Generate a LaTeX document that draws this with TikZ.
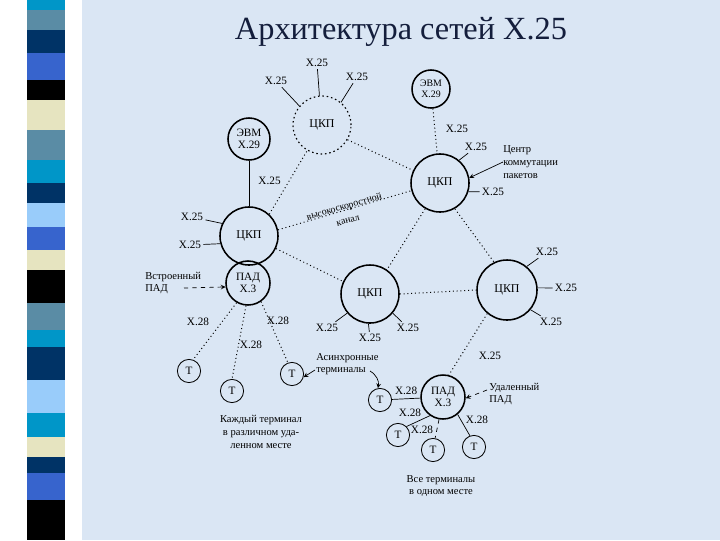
\documentclass[tikz,border=0pt]{standalone}
\usepackage{fontspec}
\setmainfont{Liberation Serif}
\definecolor{bgblue}{RGB}{218,230,244}
\definecolor{titlecol}{RGB}{20,30,60}
\definecolor{steal}{RGB}{0,150,200}
\definecolor{sgray}{RGB}{90,140,165}
\definecolor{snavy}{RGB}{0,51,102}
\definecolor{sblue}{RGB}{55,100,205}
\definecolor{scream}{RGB}{230,228,192}
\definecolor{slight}{RGB}{153,204,250}

\begin{document}
\begin{tikzpicture}[x=0.025cm,y=-0.025cm,
        ckp/.style={circle,draw,line width=1.1pt,minimum size=1.45cm,inner sep=0pt,font=\fontsize{8.5}{9}\selectfont},
        pad/.style={circle,draw,line width=1.1pt,minimum size=1.1cm,inner sep=0pt,align=center,font=\fontsize{8}{8.5}\selectfont},
        term/.style={circle,draw,line width=0.6pt,minimum size=0.58cm,inner sep=0pt,font=\fontsize{8}{9}\selectfont},
        lbl/.style={font=\fontsize{8}{9}\selectfont,inner sep=1.5pt},
        txt/.style={font=\fontsize{7.5}{9}\selectfont,align=left,inner sep=0pt},
        link/.style={dotted,line width=0.7pt},
        tick/.style={line width=0.5pt}]
        \useasboundingbox (0,0) rectangle (720,540);
        \fill[white] (0,0) rectangle (82,540);
        \fill[bgblue] (82,0) rectangle (720,540);
        \foreach \ya/\yb/\c in {0/10/steal,10/30/sgray,30/53/snavy,53/80/sblue,80/100/black,100/130/scream,
                130/160/sgray,160/183/steal,183/203/snavy,203/227/slight,227/250/sblue,250/270/scream,270/303/black,
                303/330/sgray,330/347/steal,347/380/snavy,380/413/slight,413/437/steal,437/457/scream,457/473/snavy,
                473/500/sblue,500/540/black}
            \fill[\c] (27,\ya) rectangle (65,\yb);
        \node[font=\fontsize{23}{26}\selectfont,text=titlecol] (title) at (401,32) {Архитектура сетей X.25};

        \node[ckp,dotted,line width=0.8pt] (ckpt) at (322,125) {ЦКП};
        \node[pad,minimum size=1.05cm] (evml) at (249,139) {ЭВМ\\X.29};
        \node[pad,minimum size=0.95cm,font=\fontsize{7}{7.5}\selectfont] (evmr) at (431,89) {ЭВМ\\X.29};
        \node[ckp] (ckpr) at (440,183) {ЦКП};
        \node[ckp] (ckpl) at (249,236) {ЦКП};
        \node[pad] (padl) at (248,283) {ПАД\\X.3};
        \node[ckp] (ckpm) at (370,294) {ЦКП};
        \node[ckp,minimum size=1.5cm] (ckpe) at (507,290) {ЦКП};
        \node[pad] (padr) at (443,397) {ПАД\\X.3};
        \node[term] (t1) at (189,371) {Т};
        \node[term] (t2) at (232,391) {Т};
        \node[term] (t3) at (292,374) {Т};
        \node[term] (t4) at (380,400) {Т};
        \node[term] (t5) at (398,435) {Т};
        \node[term] (t6) at (433,450) {Т};
        \node[term] (t7) at (474,447) {Т};

        \node[lbl] (xt1) at (317,63) {X.25};
        \node[lbl] (xt2) at (276,81) {X.25};
        \node[lbl] (xt3) at (357,77) {X.25};
        \draw[tick] (xt1) -- (ckpt.95);
        \draw[tick] (xt2) -- (ckpt.140);
        \draw[tick] (xt3) -- (ckpt.50);

        \draw[link] (ckpl.47) -- (ckpt.240);
        \draw[link] (ckpt.-30) -- (ckpr.155);
        \draw[link] (evmr) -- (ckpr) node[lbl,pos=0.45,right=6pt] (xr1) {X.25};
        \draw[tick] (evml) -- (ckpl) node[lbl,pos=0.45,right=5pt] (xl1) {X.25};
        \node[lbl] (xr2) at (476,147) {X.25};
        \node[lbl] (xr3) at (493,192) {X.25};
        \draw[tick] (ckpr.50) -- (xr2);
        \draw[tick] (ckpr.-17) -- (xr3);
        \node[txt,anchor=west] (centr) at (503,162) {Центр\\коммутации\\пакетов};
        \draw[tick,-stealth] (centr.west) -- (ckpr.10);

        \draw[link] (ckpl.12) -- (ckpr.195);
        \node[font=\fontsize{7}{10}\selectfont,align=center,rotate=16,inner sep=0pt] (hs) at (346,213) {высокоскоростной\\канал};
        \draw[link] (ckpl.-25) -- (ckpm.155);
        \draw[link] (ckpr.-120) -- (ckpm.55);
        \draw[link] (ckpr.-60) -- (ckpe.115);
        \draw[link] (ckpm.east) -- (ckpe.west);
        \draw[link] (ckpe.-130) -- (padr.75);
        \node[lbl] (xe4) at (490,356) {X.25};

        \node[lbl] (xl2) at (192,217) {X.25};
        \node[lbl] (xl3) at (190,245) {X.25};
        \draw[tick] (xl2) -- (ckpl.155);
        \draw[tick] (xl3) -- (ckpl.195);

        \node[lbl] (xe1) at (547,252) {X.25};
        \node[lbl] (xe2) at (566,288) {X.25};
        \node[lbl] (xe3) at (551,322) {X.25};
        \draw[tick] (ckpe.50) -- (xe1);
        \draw[tick] (ckpe.4) -- (xe2);
        \draw[tick] (ckpe.-40) -- (xe3);

        \node[lbl] (xm1) at (327,328) {X.25};
        \node[lbl] (xm2) at (370,338) {X.25};
        \node[lbl] (xm3) at (408,328) {X.25};
        \draw[tick] (ckpm.-140) -- (xm1);
        \draw[tick] (ckpm.-93) -- (xm2);
        \draw[tick] (ckpm.-40) -- (xm3);

        \node[txt,anchor=west] (vstr) at (145,283) {Встроенный\\ПАД};
        \coordinate (vstra) at (184,288);
        \draw[tick,dashed,-stealth] (vstra) -- (padl.190);

        \draw[link] (padl.-120) -- (t1.70);
        \draw[link] (padl.-95) -- (t2.north);
        \draw[link] (padl.-55) -- (t3.110);
        \node[lbl] (xp1) at (198,322) {X.28};
        \node[lbl] (xp2) at (251,345) {X.28};
        \node[lbl] (xp3) at (278,321) {X.28};
        \node[txt,align=center] (kazh) at (261,432) {Каждый терминал\\в различном уда-\\ленном месте};

        \node[txt,anchor=west] (asin) at (316,364) {Асинхронные\\терминалы};
        \coordinate (asa) at (315,370);
        \coordinate (asb) at (370,371);
        \draw[tick,-stealth] (asa) -- (t3.-15);
        \draw[tick,-stealth] (asb) to[bend left=35] (t4.100);

        \draw[tick] (t4) -- (padr) node[lbl,midway,above=1pt] (xq1) {X.28};
        \draw[tick] (padr.-125) -- (t5.45);
        \draw[tick,dashed] (padr.-100) -- (t6.80);
        \draw[tick] (padr.-50) -- (t7.110);
        \node[lbl] (xq2) at (410,413) {X.28};
        \node[lbl] (xq3) at (422,430) {X.28};
        \node[lbl] (xq4) at (477,420) {X.28};
        \node[txt,anchor=west] (udal) at (489,394) {Удаленный\\ПАД};
        \coordinate (udala) at (487,390);
        \draw[tick,dashed,-stealth] (udala) -- (padr.-3);
        \node[txt,align=center] (vse) at (441,486) {Все терминалы\\в одном месте};
    \end{tikzpicture}
\end{document}
